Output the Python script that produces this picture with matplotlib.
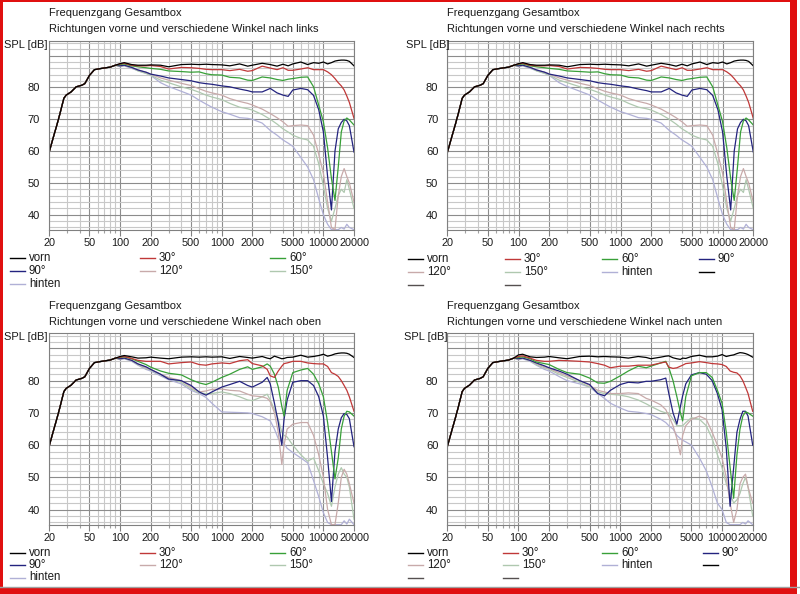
import matplotlib
matplotlib.use('Agg')
import matplotlib.pyplot as plt
from matplotlib.lines import Line2D
from matplotlib.patches import Rectangle
from matplotlib.ticker import FixedLocator, NullFormatter

plt.rcParams['font.family'] = ['Liberation Sans', 'DejaVu Sans']

# ---------------- data ----------------
SERIES = ['vorn', '30°', '60°', '90°', '120°', '150°', 'hinten']
COLORS = ['#000000', '#c03838', '#38a038', '#23237f', '#c8aaaa', '#afc8af', '#b0b0d6']

# shared bass range (all directions coincide)
F_BASS = [20, 22, 24, 25.5, 28, 29.5, 33, 37, 42, 45, 50, 56, 63, 80, 90]
SPL_BASS = [59.5, 64.2, 68.4, 71.5, 76.6, 77.6, 78.6, 80.2, 80.7, 81.2, 83.8, 85.6,
            85.9, 86.4, 87.0]

# horizontal (links / rechts)
F_LR = [100, 110, 130, 150, 180, 200, 250, 300, 400, 500, 600, 700, 800, 1000, 1200,
        1500, 1800, 2000, 2500, 3000, 3500, 4000, 4500, 5000, 6000, 7000, 8000, 9000,
        10000, 11000, 12000, 13000, 14000, 15000, 16000, 17000, 18000, 20000]
LR_VORN = [87.5, 87.8, 87.2, 87.0, 87.0, 87.1, 87.0, 86.5, 87.2, 87.3, 87.2, 87.3, 87.2,
           87.1, 86.8, 87.4, 86.7, 87.0, 87.6, 87.2, 86.7, 87.3, 86.8, 87.4, 88.0, 87.2,
           87.8, 87.6, 88.0, 87.4, 87.8, 88.3, 88.5, 88.6, 88.6, 88.5, 88.2, 86.8]
LR_30 = [87.4, 87.6, 87.0, 86.8, 86.8, 86.9, 86.6, 85.8, 86.3, 86.2, 86.0, 85.7, 85.6,
         85.6, 85.3, 85.7, 85.1, 85.3, 86.7, 86.1, 85.6, 86.2, 85.4, 85.4, 85.8, 86.2,
         85.6, 85.6, 85.6, 84.9, 84.0, 82.8, 81.5, 80.5, 79.2, 77.3, 75.3, 70.3]
LR_60 = [87.2, 87.4, 86.8, 86.5, 86.2, 86.0, 85.7, 85.2, 85.0, 84.8, 84.9, 84.3, 84.0,
         83.9, 83.2, 83.0, 82.3, 82.2, 83.3, 83.0, 82.5, 82.2, 82.6, 82.8, 83.2, 83.3,
         80.2, 74.4, 69.2, 61.0, 51.4, 44.5, 55.0, 66.0, 69.5, 70.4, 69.8, 68.2]
LR_90 = [86.8, 87.0, 86.3, 85.5, 84.8, 84.2, 83.6, 83.0, 82.5, 82.1, 81.5, 81.2, 81.0,
         80.5, 80.2, 79.5, 79.0, 78.6, 78.6, 79.7, 78.3, 77.6, 77.2, 79.2, 79.7, 79.3,
         77.5, 73.0, 66.0, 52.0, 41.5, 60.0, 67.0, 69.0, 70.0, 69.5, 68.0, 59.7]
LR_120 = [86.7, 87.0, 86.4, 85.5, 84.8, 84.2, 83.0, 82.3, 81.3, 80.6, 79.6, 78.8, 78.3,
          77.6, 76.5, 75.6, 75.0, 74.5, 73.2, 71.8, 70.5, 69.2, 67.8, 68.0, 68.2, 68.0,
          65.0, 59.0, 53.0, 44.0, 36.0, 35.3, 46.0, 52.0, 54.5, 52.0, 50.0, 44.0]
LR_150 = [86.6, 86.9, 86.2, 85.2, 84.4, 83.9, 82.3, 81.5, 80.2, 79.4, 78.5, 77.6, 77.0,
          76.2, 75.0, 73.8, 73.3, 72.9, 71.5, 70.0, 68.5, 67.0, 66.0, 65.0, 64.0, 63.5,
          61.5, 56.0, 49.0, 42.0, 38.0, 42.0, 46.0, 48.0, 47.0, 51.0, 48.0, 42.0]
LR_HINTEN = [86.5, 86.8, 86.0, 85.3, 84.5, 83.8, 81.5, 80.3, 78.8, 77.6, 76.0, 74.8, 73.8,
             72.4, 71.6, 70.5, 70.3, 70.0, 68.8, 66.5, 65.0, 63.5, 62.5, 61.5, 58.0, 55.0,
             51.0, 45.0, 40.0, 37.0, 35.3, 35.3, 35.3, 36.0, 35.5, 37.0, 36.0, 35.3]

# vertical (oben / unten)
F_OU = [100, 110, 130, 150, 180, 200, 250, 300, 400, 500, 600, 700, 800, 1000, 1200,
        1500, 1800, 2000, 2500, 2800, 3000, 3300, 3600, 3900, 4100, 4400, 5000, 6000,
        7000, 8000, 9000, 10000, 11000, 12000, 13000, 14000, 15000, 16000, 17000,
        18000, 20000]
UP_VORN = [87.5, 87.8, 87.4, 87.0, 87.1, 87.3, 87.0, 86.8, 87.3, 87.4, 87.3, 87.4, 87.3,
           87.4, 86.9, 87.5, 87.2, 87.0, 87.5, 87.0, 86.8, 87.6, 87.2, 86.8, 86.9, 87.2,
           87.3, 87.9, 87.3, 87.5, 87.8, 88.2, 87.6, 87.9, 88.3, 88.5, 88.6, 88.6, 88.5,
           88.2, 87.2]
UP_30 = [87.3, 87.5, 86.9, 86.3, 86.0, 86.0, 86.0, 85.2, 85.6, 85.8, 85.0, 84.8, 85.2,
         85.5, 85.3, 86.2, 86.5, 85.3, 84.6, 83.5, 81.5, 81.0, 83.0, 84.5, 85.3, 85.5,
         86.0, 86.0, 85.5, 85.3, 85.2, 85.2, 84.4, 82.5, 82.0, 81.3, 80.0, 78.5, 77.0,
         75.0, 70.5]
UP_60 = [87.2, 87.4, 86.8, 86.0, 85.0, 84.2, 83.0, 82.3, 81.8, 80.3, 79.3, 78.8, 79.5,
         81.0, 82.0, 83.5, 84.3, 83.5, 84.3, 85.2, 84.5, 82.0, 78.0, 72.0, 69.0, 77.0,
         82.5, 83.3, 83.8, 82.0, 79.0, 75.0, 67.0, 58.0, 49.5, 56.0, 65.0, 69.0, 70.5,
         70.3, 69.0]
UP_90 = [86.8, 87.0, 86.3, 85.2, 84.3, 83.5, 82.0, 80.5, 80.0, 78.5, 76.5, 75.5, 76.5,
         78.0, 78.8, 79.8, 78.5, 78.0, 79.5, 81.0, 79.0, 73.0, 67.0, 60.0, 68.0, 74.0,
         79.5, 80.0, 80.0, 78.5, 75.0, 69.0, 56.0, 42.5, 58.0, 65.0, 68.5, 69.8, 69.5,
         68.2, 59.5]
UP_120 = [86.7, 87.0, 86.3, 85.2, 84.0, 83.5, 82.0, 81.0, 80.0, 78.0, 76.5, 76.8, 77.3,
          77.4, 77.0, 76.8, 75.8, 75.3, 75.0, 74.5, 73.5, 70.0, 64.0, 54.0, 60.0, 65.0,
          66.5, 67.0, 67.0, 63.0, 57.0, 50.0, 40.0, 35.3, 35.3, 42.0, 50.0, 52.5, 51.0,
          48.0, 42.0]
UP_150 = [86.6, 86.9, 86.2, 85.0, 83.8, 83.3, 81.8, 80.8, 79.5, 77.5, 76.2, 76.0, 76.0,
          76.5, 76.0, 75.0, 74.0, 73.8, 75.0, 75.8, 74.0, 71.0, 68.0, 64.0, 63.0, 62.5,
          60.0, 57.0, 55.0, 56.0, 52.0, 48.0, 45.0, 41.0, 47.0, 51.0, 53.0, 51.0, 50.0,
          47.0, 37.0]
UP_HINTEN = [86.5, 86.8, 86.0, 84.8, 83.5, 83.0, 81.5, 80.3, 79.0, 77.0, 76.0, 74.8, 73.0,
             70.3, 70.2, 70.1, 70.0, 69.8, 68.8, 68.0, 67.5, 65.0, 62.0, 61.0, 60.5, 59.0,
             57.7, 56.0, 54.5, 49.0, 44.0, 39.0, 36.0, 35.3, 35.3, 35.3, 35.3, 36.5, 35.5,
             37.0, 35.3]

DN_VORN = [88.0, 88.2, 87.4, 87.2, 87.3, 87.5, 87.1, 86.8, 87.5, 87.6, 87.4, 87.5, 87.4,
           87.3, 87.0, 87.5, 87.2, 86.8, 87.3, 87.6, 87.7, 87.1, 86.8, 86.6, 87.0, 86.9,
           87.5, 87.9, 87.4, 87.4, 87.6, 88.1, 87.5, 87.8, 88.0, 88.4, 88.7, 88.6, 88.4,
           88.1, 87.3]
DN_30 = [87.5, 87.7, 87.0, 86.3, 86.0, 86.0, 86.3, 86.2, 86.0, 85.8, 85.3, 84.8, 84.0,
         84.5, 84.5, 84.8, 84.8, 84.8, 85.5, 85.8, 84.2, 83.8, 84.0, 84.5, 84.8, 85.3,
         85.5, 85.9, 85.6, 85.3, 85.2, 85.0, 84.4, 83.0, 82.6, 82.4, 81.5, 80.0, 78.0,
         76.0, 70.5]
DN_60 = [87.2, 87.4, 86.8, 85.8, 85.3, 85.0, 83.5, 82.5, 82.0, 80.8, 79.3, 79.2, 79.8,
         81.5, 83.0, 84.5, 84.0, 84.5, 85.5, 86.0, 84.0, 80.0, 75.0, 70.0, 67.5, 75.0,
         81.5, 82.5, 82.5, 81.0, 77.0, 73.0, 64.0, 53.0, 43.5, 57.0, 65.0, 69.0, 70.3,
         70.0, 69.0]
DN_90 = [86.8, 87.0, 86.3, 85.5, 84.6, 84.0, 83.0, 82.0, 80.0, 78.8, 76.0, 75.3, 77.0,
         78.8, 79.5, 79.3, 79.8, 79.8, 80.3, 80.8, 76.0, 70.0, 66.5, 72.0, 75.3, 79.0,
         81.8, 82.5, 82.0, 80.0, 76.0, 71.0, 59.0, 41.0, 53.0, 64.0, 68.0, 70.5, 70.5,
         69.0, 60.0]
DN_120 = [86.7, 87.0, 86.3, 85.3, 84.3, 83.8, 82.5, 81.5, 80.0, 78.5, 77.0, 76.5, 76.0,
          76.0, 76.2, 76.0, 74.5, 74.0, 72.5, 71.0, 69.0, 66.0, 62.0, 57.0, 63.0, 66.0,
          68.0, 69.0, 68.0, 64.0, 60.0, 56.0, 50.0, 42.0, 36.0, 40.0, 48.0, 50.0, 51.0,
          47.0, 42.0]
DN_150 = [86.6, 86.9, 86.2, 85.0, 84.0, 83.5, 82.0, 81.0, 79.5, 78.0, 76.5, 76.0, 75.8,
          75.5, 75.0, 74.0, 72.8, 72.0, 70.5, 70.0, 70.0, 68.0, 66.0, 66.0, 66.0, 67.0,
          68.5, 68.0, 66.0, 62.0, 57.0, 53.0, 48.0, 45.0, 42.0, 43.0, 45.0, 48.0, 50.0,
          47.0, 38.0]
DN_HINTEN = [86.5, 86.8, 86.0, 84.8, 83.5, 83.0, 81.3, 80.0, 79.0, 78.0, 76.0, 74.5, 73.0,
             71.5, 70.5, 70.2, 69.8, 69.5, 68.0, 67.0, 66.0, 65.0, 63.0, 62.0, 61.5, 61.0,
             60.0, 56.0, 52.0, 47.0, 42.0, 40.0, 36.0, 35.3, 35.3, 35.3, 35.3, 36.0, 35.5,
             36.5, 35.3]

TITLE = 'Frequenzgang Gesamtbox'
SUBTITLES = ['Richtungen vorne und verschiedene Winkel nach links',
             'Richtungen vorne und verschiedene Winkel nach rechts',
             'Richtungen vorne und verschiedene Winkel nach oben',
             'Richtungen vorne und verschiedene Winkel nach unten']
X_TICKS = [20, 50, 100, 200, 500, 1000, 2000, 5000, 10000, 20000]
X_MINOR = [30, 40, 60, 70, 80, 90, 300, 400, 600, 700, 800, 900,
           3000, 4000, 6000, 7000, 8000, 9000]
Y_TICKS = [40, 50, 60, 70, 80, 90]
Y_LABELS = ['40', '50', '60', '70', '80', '']
EXTRA_LEGEND = ['#000000', '#555050', '#555050']

# ---------------- layout ----------------
W, H = 800, 594
fig = plt.figure(figsize=(W / 100, H / 100), dpi=100)
fig.patch.set_facecolor('white')


def fx(x):
    return x / W


def fy(y):
    return 1 - y / H


panels = [
    dict(box=(49, 40.7, 354, 230), spl_x=4, freq=F_LR,
         data=[LR_VORN, LR_30, LR_60, LR_90, LR_120, LR_150, LR_HINTEN], ncol=3,
         cols=[10, 140, 270], rows=[258, 271, 284]),
    dict(box=(447.3, 40.7, 753.3, 230), spl_x=406, freq=F_LR,
         data=[LR_VORN, LR_30, LR_60, LR_90, LR_120, LR_150, LR_HINTEN], ncol=4,
         cols=[408, 505, 602, 699], rows=[259, 272, 284.5]),
    dict(box=(49, 333.3, 354, 525), spl_x=4, freq=F_OU,
         data=[UP_VORN, UP_30, UP_60, UP_90, UP_120, UP_150, UP_HINTEN], ncol=3,
         cols=[10, 140, 270], rows=[552.5, 565, 577.5]),
    dict(box=(447.3, 333.3, 752.7, 525), spl_x=404, freq=F_OU,
         data=[DN_VORN, DN_30, DN_60, DN_90, DN_120, DN_150, DN_HINTEN], ncol=4,
         cols=[408, 503, 602, 703], rows=[552.5, 565, 577.5]),
]

TXT = '#1a1a1a'
for i, p in enumerate(panels):
    x0, y0, x1, y1 = p['box']
    ax = fig.add_axes([fx(x0), fy(y1), (x1 - x0) / W, (y1 - y0) / H])
    ax.set_xscale('log')
    ax.set_xlim(20, 20000)
    ax.set_ylim(35.2, 94.7)
    ax.xaxis.set_major_locator(FixedLocator(X_TICKS))
    ax.xaxis.set_minor_locator(FixedLocator(X_MINOR))
    ax.set_xticklabels([str(t) for t in X_TICKS])
    ax.xaxis.set_minor_formatter(NullFormatter())
    ax.yaxis.set_major_locator(FixedLocator(Y_TICKS))
    ax.yaxis.set_minor_locator(FixedLocator(list(range(36, 95, 2))))
    ax.set_yticklabels(Y_LABELS)
    ax.grid(which='major', color='#8c8c8c', lw=0.8)
    ax.grid(which='minor', color='#c8c8c8', lw=0.8)
    ax.set_axisbelow(True)
    for s in ax.spines.values():
        s.set_color('#808080')
        s.set_linewidth(0.8)
    ax.tick_params(axis='x', which='major', length=4, width=0.8, color='#808080',
                   pad=2, labelsize=7.8, labelcolor=TXT)
    ax.tick_params(axis='x', which='minor', length=2, width=0.8, color='#a0a0a0')
    ax.tick_params(axis='y', which='both', length=0, pad=6.5, labelsize=8,
                   labelcolor=TXT)

    freq = F_BASS + p['freq']
    for k in reversed(range(len(SERIES))):
        ax.plot(freq, SPL_BASS + p['data'][k], color=COLORS[k], lw=0.9,
                solid_joinstyle='round')

    # titles
    fig.text(fx(x0), fy(y0 - 27.5), TITLE, fontsize=8, color=TXT, va='center', ha='left')
    fig.text(fx(x0), fy(y0 - 11.5), SUBTITLES[i], fontsize=8, color=TXT,
             va='center', ha='left')
    fig.text(fx(p['spl_x']), fy(y0 + 4), 'SPL [dB]', fontsize=8, color=TXT,
             va='center', ha='left')

    # legend
    entries = [(SERIES[k], COLORS[k]) for k in range(len(SERIES))]
    if p['ncol'] == 4:
        entries += [('', c) for c in EXTRA_LEGEND]
    for j, (lab, col) in enumerate(entries):
        r, c = divmod(j, p['ncol'])
        lx = p['cols'][c]
        ly = p['rows'][r]
        fig.add_artist(Line2D([fx(lx), fx(lx + 15)], [fy(ly), fy(ly)],
                              transform=fig.transFigure, color=col, lw=1.0))
        if lab:
            fig.text(fx(lx + 19), fy(ly), lab, fontsize=8.3, color=TXT,
                     va='center', ha='left')

# window frame
fig.add_artist(Line2D([0, 1], [fy(586.5), fy(586.5)], transform=fig.transFigure,
                      color='#a0a0a0', lw=1.0))
for (rx, ry, rw, rh) in [(0, 0, 3, 594), (0, 0, 797, 2), (790, 0, 7, 594),
                         (0, 588, 797, 6)]:
    fig.add_artist(Rectangle((fx(rx), fy(ry + rh)), rw / W, rh / H,
                             transform=fig.transFigure, color='#e01010', lw=0))

fig.savefig('out.png', dpi=100, facecolor='white')
